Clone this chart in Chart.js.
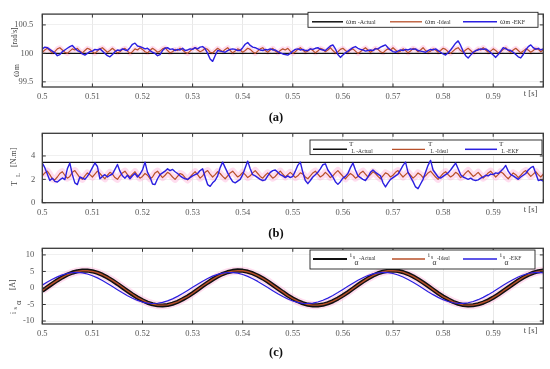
<!DOCTYPE html>
<html><head><meta charset="utf-8">
<script src="https://cdn.jsdelivr.net/npm/chart.js@4"></script>
<style>
html,body{margin:0;padding:0;background:#fff;}
#wrap{position:relative;width:550px;height:369px;overflow:hidden;background:#fff;}
canvas{position:absolute;left:0;top:0;}
.cap{position:absolute;left:0;width:552px;text-align:center;font:bold 12.5px 'Liberation Serif',serif;color:#111;line-height:14px;}
</style></head><body>
<div id="wrap">
<canvas id="cA" width="550" height="369"></canvas>
<canvas id="cB" width="550" height="369"></canvas>
<canvas id="cC" width="550" height="369"></canvas>
<div class="cap" style="top:110px">(a)</div>
<div class="cap" style="top:226px">(b)</div>
<div class="cap" style="top:345px">(c)</div>
</div>
<script>
// ---------- data ----------
const xTickValues = [0.5,0.51,0.52,0.53,0.54,0.55,0.56,0.57,0.58,0.59,0.6];
const xTickLabels = ['0.5','0.51','0.52','0.53','0.54','0.55','0.56','0.57','0.58','0.59',''];
const tFine = []; for (let i = 0; i <= 200; i++) tFine.push(+(0.5 + i*0.0005).toFixed(4));
const tCoarse = []; for (let i = 0; i <= 100; i++) tCoarse.push(+(0.5 + i*0.001).toFixed(3));
const tEnds = [0.5, 0.6];

const omegaTicks = [99.5, 100, 100.5];
const omegaTickLabels = ['99.5', '100', '100.5'];
const omegaActual = [100, 100];
const omegaIdeal = [
100.02,100.06,100.09,100.05,100.01,100.03,100.08,100.10,100.06,100.02,
100.00,100.04,100.08,100.06,100.09,100.04,100.01,100.05,100.09,100.07,
100.03,100.00,100.04,100.08,100.10,100.06,100.02,100.05,100.09,100.05,
100.01,100.03,100.07,100.09,100.04,100.00,100.03,100.08,100.06,100.10,
100.07,100.03,100.01,100.05,100.09,100.06,100.02,100.04,100.08,100.10,
100.05,100.01,100.03,100.07,100.05,100.09,100.06,100.02,100.00,100.04,
100.08,100.10,100.06,100.03,100.05,100.09,100.07,100.02,100.01,100.05,
100.09,100.06,100.03,100.07,100.10,100.05,100.01,100.04,100.08,100.06,
100.02,100.05,100.09,100.07,100.03,100.00,100.04,100.08,100.10,100.05,
100.02,100.06,100.09,100.04,100.01,100.05,100.08,100.06,100.09,100.04,
100.00,100.03,100.07,100.10,100.06,100.02,100.04,100.08,100.05,100.01,
100.04,100.09,100.07,100.03,100.06,100.10,100.05,100.01,100.03,100.07,
100.09,100.05,100.02,100.06,100.08,100.04,100.00,100.03,100.07,100.10,
100.06,100.02,100.05,100.09,100.07,100.03,100.01,100.05,100.08,100.06,
100.10,100.06,100.02,100.04,100.08,100.05,100.01,100.04,100.09,100.07,
100.03,100.06,100.10,100.05,100.02,100.04,100.08,100.06,100.02,100.05,
100.09,100.07,100.03,100.00,100.04,100.08,100.10,100.05,100.02,100.06,
100.09,100.05,100.01,100.04,100.08,100.06,100.10,100.06,100.02,100.04,
100.08,100.05,100.01,100.03,100.07,100.10,100.05,100.02,100.06,100.09,
100.05,100.01,100.04,100.08,100.06,100.02,100.05,100.09,100.07,100.03,
100.06];
const omegaEKF = [
100.08,100.11,100.10,100.07,100.04,100.01,99.96,99.98,100.03,100.06,
100.09,100.12,100.14,100.09,100.05,100.03,99.99,99.97,100.00,100.03,
100.04,100.07,100.06,100.08,100.04,100.00,99.96,99.94,99.98,100.03,
100.06,100.05,100.08,100.06,100.05,100.10,100.16,100.18,100.13,100.12,
100.10,100.08,100.09,100.05,100.02,100.00,99.96,99.98,100.05,100.09,
100.10,100.07,100.08,100.05,100.07,100.06,100.09,100.05,100.06,100.08,
100.07,100.10,100.08,100.11,100.12,100.08,100.00,99.90,99.86,99.96,
100.05,100.04,100.03,100.02,100.05,100.07,100.08,100.07,100.05,100.05,
100.10,100.16,100.19,100.14,100.11,100.10,100.08,100.06,100.05,100.07,
100.06,100.08,100.06,100.06,100.03,100.01,99.99,99.98,99.97,100.00,
100.04,100.07,100.08,100.06,100.07,100.05,100.05,100.08,100.07,100.09,
100.10,100.07,100.06,100.05,100.09,100.13,100.15,100.08,99.98,99.93,
99.97,100.01,100.04,100.07,100.10,100.12,100.09,100.07,100.06,100.04,
100.05,100.06,100.05,100.08,100.08,100.11,100.13,100.15,100.10,100.06,
100.03,100.02,100.04,100.06,100.05,100.07,100.06,100.08,100.07,100.08,
100.05,100.04,100.03,100.02,100.05,100.07,100.06,100.08,100.05,100.02,
99.99,99.97,100.01,100.06,100.12,100.18,100.22,100.14,100.04,99.96,
99.92,99.97,100.02,100.05,100.06,100.08,100.07,100.08,100.05,100.01,
99.97,99.93,99.98,100.04,100.10,100.08,100.06,100.05,100.02,99.98,
99.94,99.92,99.98,100.06,100.12,100.15,100.10,100.07,100.09,100.06,
100.08];

const torqueTicks = [0, 2, 4];
const torqueTickLabels = ['0', '2', '4'];
const torqueActual = [3.45, 3.45];
const torqueIdeal = [
2.30,2.55,2.70,2.40,2.05,1.95,2.20,2.50,2.65,2.35,
2.10,2.25,2.60,2.75,2.45,2.15,2.00,2.30,2.55,2.40,
2.20,2.45,2.70,2.50,2.25,2.05,2.35,2.60,2.45,2.15,
2.00,2.30,2.55,2.70,2.40,2.20,2.45,2.65,2.35,2.10,
2.25,2.50,2.35,2.05,2.20,2.55,2.70,2.40,2.15,2.35,
2.60,2.45,2.20,2.00,2.25,2.50,2.40,2.15,1.95,2.20,
2.45,2.65,2.40,2.10,2.30,2.60,2.75,2.45,2.20,2.40,
2.65,2.50,2.25,2.05,2.30,2.55,2.70,2.45,2.20,2.35,
2.60,2.40,2.15,2.30,2.55,2.75,2.50,2.25,2.10,2.35,
2.55,2.35,2.10,2.25,2.50,2.70,2.45,2.20,2.40,2.60,
2.40,2.15,2.30,2.55,2.45,2.20,2.05,2.30,2.55,2.70,
2.45,2.20,2.35,2.60,2.40,2.15,2.30,2.55,2.75,2.50,
2.25,2.05,2.30,2.50,2.35,2.10,2.25,2.55,2.70,2.45,
2.20,2.40,2.65,2.50,2.25,2.05,2.30,2.55,2.45,2.20,
2.35,2.60,2.75,2.45,2.20,2.40,2.60,2.35,2.10,2.30,
2.55,2.40,2.15,2.30,2.55,2.70,2.45,2.20,2.00,2.25,
2.50,2.65,2.40,2.20,2.35,2.60,2.45,2.15,2.30,2.55,
2.75,2.50,2.25,2.40,2.60,2.35,2.10,2.30,2.55,2.70,
2.45,2.20,2.40,2.65,2.50,2.25,2.05,2.30,2.55,2.40,
2.15,2.35,2.60,2.75,2.50,2.25,2.45,2.65,2.40,2.20,
2.45];
const torqueEKF = [
3.39,3.00,2.45,1.90,2.10,1.82,1.77,1.95,2.12,1.98,
2.90,3.39,2.40,1.70,1.55,2.20,2.10,2.00,2.25,2.60,
3.00,3.40,3.10,2.05,2.25,2.40,2.20,2.35,2.45,2.85,
3.27,2.70,2.30,2.10,2.35,2.05,2.30,2.50,2.20,2.45,
2.80,3.47,2.60,2.20,1.60,1.55,2.05,2.40,2.55,2.70,
2.90,2.75,2.85,2.65,2.50,2.30,2.15,2.05,2.00,2.15,
2.30,2.40,2.50,2.75,2.90,2.20,1.55,1.40,1.70,1.90,
2.30,3.00,3.47,3.00,2.55,2.15,1.80,1.70,1.85,2.00,
2.40,3.00,3.56,2.90,2.40,2.30,2.15,2.00,1.90,1.95,
2.30,2.60,2.75,2.80,2.60,2.40,2.30,2.15,2.30,2.15,
2.25,2.70,3.20,3.47,2.60,1.90,1.63,1.90,2.20,2.40,
2.60,2.90,3.25,3.33,2.80,2.50,2.20,1.80,1.57,1.80,
2.10,2.25,2.50,3.00,3.39,2.80,2.30,2.15,2.00,1.90,
2.20,2.60,2.80,2.60,2.45,2.30,1.70,1.35,1.70,2.00,
2.15,2.30,2.45,2.80,3.20,3.47,2.60,2.20,1.80,1.35,
1.20,1.60,2.00,2.60,3.20,3.62,2.80,2.50,2.20,2.10,
2.25,2.40,2.55,2.80,3.10,3.39,2.90,2.40,2.20,2.10,
2.00,2.10,1.95,1.90,1.95,2.10,2.20,2.35,2.30,2.45,
2.40,2.55,2.50,2.70,2.90,3.19,2.70,2.40,2.30,2.15,
2.00,2.20,2.35,2.50,2.80,3.00,3.10,2.50,1.90,1.95,
1.85];

const currentTicks = [-10, -5, 0, 5, 10];
const currentTickLabels = ['-10', '-5', '0', '5', '10'];
const iActual = [
-0.86,0.22,1.29,2.31,3.23,4.02,4.64,5.06,5.27,5.27,
5.04,4.61,3.98,3.18,2.25,1.23,0.16,-0.92,-1.96,-2.92,
-3.76,-4.44,-4.94,-5.23,-5.30,-5.15,-4.78,-4.21,-3.47,-2.59,
-1.59,-0.53,0.55,1.61,2.60,3.49,4.23,4.79,5.15,5.30,
5.22,4.93,4.43,3.75,2.91,1.95,0.90,-0.18,-1.25,-2.27,
-3.20,-3.99,-4.62,-5.05,-5.27,-5.27,-5.06,-4.63,-4.00,-3.21,
-2.29,-1.27,-0.20,0.88,1.93,2.89,3.74,4.42,4.92,5.22,
5.30,5.16,4.80,4.24,3.50,2.62,1.63,0.57,-0.51,-1.58,
-2.57,-3.46,-4.20,-4.77,-5.14,-5.30,-5.23,-4.94,-4.45,-3.77,
-2.94,-1.98,-0.94,0.14,1.21,2.24,3.17,3.97,4.60,5.04,
5.27];
const iIdeal = [
-0.8,0.3,1.3,2.3,3.2,4.0,4.6,5.0,5.2,5.2,
5.0,4.6,4.0,3.2,2.3,1.3,0.2,-0.9,-1.9,-2.9,
-3.7,-4.4,-4.9,-5.2,-5.2,-5.1,-4.7,-4.2,-3.4,-2.6,
-1.6,-0.5,0.6,1.6,2.6,3.5,4.2,4.8,5.1,5.2,
5.2,4.9,4.4,3.7,2.9,2.0,0.9,-0.2,-1.2,-2.3,
-3.2,-4.0,-4.6,-5.0,-5.2,-5.2,-5.0,-4.6,-4.0,-3.2,
-2.3,-1.3,-0.2,0.9,1.9,2.9,3.7,4.4,4.9,5.2,
5.2,5.1,4.8,4.2,3.5,2.6,1.6,0.6,-0.5,-1.6,
-2.6,-3.4,-4.2,-4.7,-5.1,-5.2,-5.2,-4.9,-4.4,-3.8,
-2.9,-2.0,-0.9,0.1,1.2,2.2,3.2,4.0,4.6,5.0,
5.2];
const iEKF = [
0.86,1.78,2.63,3.36,3.96,4.39,4.64,4.69,4.55,4.22,
3.71,3.05,2.26,1.37,0.43,-0.53,-1.47,-2.35,-3.13,-3.77,
-4.26,-4.58,-4.70,-4.62,-4.36,-3.91,-3.29,-2.54,-1.68,-0.76,
0.20,1.15,2.05,2.87,3.57,4.12,4.49,4.68,4.67,4.47,
4.08,3.52,2.81,1.99,1.08,0.13,-0.83,-1.75,-2.60,-3.34,
-3.94,-4.38,-4.64,-4.70,-4.56,-4.24,-3.73,-3.07,-2.29,-1.40,
-0.46,0.50,1.44,2.32,3.10,3.75,4.25,4.57,4.70,4.63,
4.37,3.92,3.32,2.57,1.72,0.79,-0.17,-1.12,-2.02,-2.84,
-3.54,-4.10,-4.48,-4.68,-4.68,-4.48,-4.10,-3.54,-2.84,-2.02,
-1.12,-0.16,0.79,1.72,2.57,3.32,3.93,4.37,4.63,4.70,
4.57];

// ---------- styling ----------
const W = 550, H = 369;
const X_LEFT = 42.3, X_RIGHT = 543.3, XAH = 16;
const C_BLACK = '#111111', C_RED = '#b8502a', C_BLUE = '#2a1fe0', C_PINK = 'rgba(255,150,205,0.32)';
const SERIF = '"Liberation Serif", "DejaVu Serif", serif';

function pts(ts, ys){ return ys.map((y,i)=>({x:ts[i], y:y})); }

function drawPieces(ctx, x, y, pieces, color){
  ctx.fillStyle = color; ctx.textAlign = 'left'; ctx.textBaseline = 'middle';
  pieces.forEach(p=>{ ctx.font = p.s + 'px ' + SERIF; ctx.fillText(p.t, x + p.dx, y + p.dy); });
}

const panels = [
 { id:'cA', top:5.3, bottom:87, yMin:99.41, yMax:100.69, yTicks:omegaTicks, yLabels:omegaTickLabels, yPad:9,
   series:[
     {ts:tFine, ys:omegaIdeal, color:C_PINK, w:5, order:3},
     {ts:tEnds, ys:omegaActual, color:C_BLACK, w:1.3, order:2},
     {ts:tFine, ys:omegaIdeal, color:C_RED, w:1.2, order:1},
     {ts:tFine, ys:omegaEKF, color:C_BLUE, w:1.4, order:0}],
   legend:{box:[308,12.3,538,27.3], ly:21.8, entries:[
     {x0:312,x1:343,tx:346,color:C_BLACK,w:1.5,pieces:[{t:'ω',s:8,dx:0,dy:0},{t:'m -Actual',s:6,dx:5.5,dy:0.8}]},
     {x0:390,x1:422,tx:425,color:C_RED,w:1.3,pieces:[{t:'ω',s:8,dx:0,dy:0},{t:'m -Ideal',s:6,dx:5.5,dy:0.8}]},
     {x0:463,x1:497,tx:500,color:C_BLUE,w:1.5,pieces:[{t:'ω',s:8,dx:0,dy:0},{t:'m -EKF',s:6,dx:5.5,dy:0.8}]}]},
   title:{x:16.5, y:77, pieces:[{t:'ω',s:9.5,u:0,v:0},{t:'m',s:7.5,u:7,v:1},{t:'[rad/s]',s:7.5,u:30,v:-1}]}
 },
 { id:'cB', top:133.3, bottom:202.7, yMin:0, yMax:5.94, yTicks:torqueTicks, yLabels:torqueTickLabels, yPad:7,
   series:[
     {ts:tFine, ys:torqueIdeal, color:C_PINK, w:7, order:3},
     {ts:tEnds, ys:torqueActual, color:C_BLACK, w:1.3, order:2},
     {ts:tFine, ys:torqueIdeal, color:C_RED, w:1.2, order:1},
     {ts:tFine, ys:torqueEKF, color:C_BLUE, w:1.4, order:0}],
   legend:{box:[310,140,542,154.5], ly:149.3, entries:[
     {x0:313,x1:347,tx:349,color:C_BLACK,w:1.5,pieces:[{t:'T',s:7,dx:0,dy:-5},{t:'L -Actual',s:5.5,dx:2.5,dy:2.5}]},
     {x0:392,x1:425,tx:428,color:C_RED,w:1.3,pieces:[{t:'T',s:7,dx:0,dy:-5},{t:'L -Ideal',s:5.5,dx:2.5,dy:2.5}]},
     {x0:465,x1:497,tx:499,color:C_BLUE,w:1.5,pieces:[{t:'T',s:7,dx:0,dy:-5},{t:'L -EKF',s:5.5,dx:2.5,dy:2.5}]}]},
   title:{x:14.5, y:186, pieces:[{t:'T',s:8.5,u:0,v:0},{t:'L',s:6.5,u:9,v:4},{t:'[N.m]',s:8,u:19,v:-1}]}
 },
 { id:'cC', top:248.3, bottom:324, yMin:-10.9, yMax:12, yTicks:currentTicks, yLabels:currentTickLabels, yPad:8,
   series:[
     {ts:tCoarse, ys:iIdeal, color:C_PINK, w:8, order:4},
     {ts:tCoarse, ys:iActual, color:C_BLACK, w:4.2, order:2},
     {ts:tCoarse, ys:iIdeal, color:C_RED, w:1.4, order:1},
     {ts:tCoarse, ys:iEKF, color:C_BLUE, w:1.2, order:0}],
   legend:{box:[310,250,535,269], ly:259, entries:[
     {x0:313,x1:347,tx:350,color:C_BLACK,w:1.8,pieces:[{t:'i',s:6.5,dx:0,dy:-3.3},{t:'s',s:5.5,dx:3,dy:-1},{t:'α',s:7.5,dx:4.5,dy:4},{t:'-Actual',s:5.5,dx:9,dy:0}]},
     {x0:392,x1:425,tx:428,color:C_RED,w:1.4,pieces:[{t:'i',s:6.5,dx:0,dy:-3.3},{t:'s',s:5.5,dx:3,dy:-1},{t:'α',s:7.5,dx:4.5,dy:4},{t:'-Ideal',s:5.5,dx:9,dy:0}]},
     {x0:463,x1:497,tx:500,color:C_BLUE,w:1.4,pieces:[{t:'i',s:6.5,dx:0,dy:-3.3},{t:'s',s:5.5,dx:3,dy:-1},{t:'α',s:7.5,dx:4.5,dy:4},{t:'-EKF',s:5.5,dx:9,dy:0}]}]},
   title:{x:14.5, y:314, pieces:[{t:'i',s:7.5,u:0,v:0},{t:'s',s:6.5,u:4.5,v:1},{t:'α',s:8.5,u:9,v:4},{t:'[A]',s:7.5,u:24,v:-1}]}
 }
];

function decor(p){
  return { id:'decor', afterDraw(chart){
    const ctx = chart.ctx, ca = chart.chartArea, xs = chart.scales.x, ys = chart.scales.y;
    ctx.save();
    const line = (a,b,c,d)=>{ ctx.beginPath(); ctx.moveTo(a,b); ctx.lineTo(c,d); ctx.stroke(); };
    ctx.strokeStyle = '#333'; ctx.lineWidth = 1;
    xTickValues.forEach(v=>{ const px = xs.getPixelForValue(v); line(px,ca.top,px,ca.top+3.5); line(px,ca.bottom,px,ca.bottom-3.5); });
    p.yTicks.forEach(v=>{ const py = ys.getPixelForValue(v); line(ca.left,py,ca.left+3.5,py); line(ca.right,py,ca.right-3.5,py); });
    ctx.lineWidth = 1.3; ctx.strokeStyle = '#3a3a3a';
    ctx.strokeRect(ca.left, ca.top, ca.width, ca.height);
    ctx.fillStyle = '#444'; ctx.font = '8.5px ' + SERIF; ctx.textAlign = 'right'; ctx.textBaseline = 'middle';
    ctx.fillText('t [s]', ca.right - 6, ca.bottom + 7);
    const L = p.legend, b = L.box;
    ctx.fillStyle = '#fff'; ctx.fillRect(b[0], b[1], b[2]-b[0], b[3]-b[1]);
    ctx.strokeStyle = '#222'; ctx.lineWidth = 0.9; ctx.strokeRect(b[0], b[1], b[2]-b[0], b[3]-b[1]);
    L.entries.forEach(e=>{
      ctx.strokeStyle = e.color; ctx.lineWidth = e.w; line(e.x0, L.ly, e.x1, L.ly);
      drawPieces(ctx, e.tx, L.ly, e.pieces, '#333');
    });
    const T = p.title;
    ctx.translate(T.x, T.y); ctx.rotate(-Math.PI/2);
    ctx.fillStyle = '#444'; ctx.textAlign = 'left'; ctx.textBaseline = 'middle';
    T.pieces.forEach(q=>{ ctx.font = q.s + 'px ' + SERIF; ctx.fillText(q.t, q.u, q.v); });
    ctx.restore();
  }};
}

panels.forEach(p=>{
  const datasets = p.series.map(s=>({
    data: pts(s.ts, s.ys), borderColor: s.color, borderWidth: s.w, order: s.order,
    pointRadius: 0, tension: 0, fill: false, borderJoinStyle: 'round', borderCapStyle: 'butt'
  }));
  new Chart(document.getElementById(p.id), {
    type: 'line',
    data: { datasets },
    options: {
      responsive: false, animation: false, devicePixelRatio: 1,
      parsing: false, normalized: true,
      layout: { padding: { left: 0, right: W - X_RIGHT, top: p.top, bottom: H - p.bottom - XAH } },
      plugins: { legend: { display: false }, tooltip: { enabled: false } },
      scales: {
        x: { type: 'linear', min: 0.5, max: 0.6,
             afterBuildTicks: s => { s.ticks = xTickValues.map(v=>({value:v})); },
             afterFit: s => { s.height = XAH; },
             ticks: { autoSkip: false, maxRotation: 0, padding: 5, color: '#555',
                      font: { family: SERIF, size: 8.5 }, callback: (v, i) => xTickLabels[i] },
             grid: { color: '#e2e2e2', lineWidth: 0.8, drawTicks: false },
             border: { display: false } },
        y: { type: 'linear', min: p.yMin, max: p.yMax,
             afterBuildTicks: s => { s.ticks = p.yTicks.map(v=>({value:v})); },
             afterFit: s => { s.width = X_LEFT; },
             ticks: { padding: p.yPad, color: '#555', font: { family: SERIF, size: 8.5 },
                      callback: (v, i) => p.yLabels[i] },
             grid: { color: '#ececec', lineWidth: 0.8, drawTicks: false },
             border: { display: false } }
      }
    },
    plugins: [decor(p)]
  });
});
</script>
</body></html>
